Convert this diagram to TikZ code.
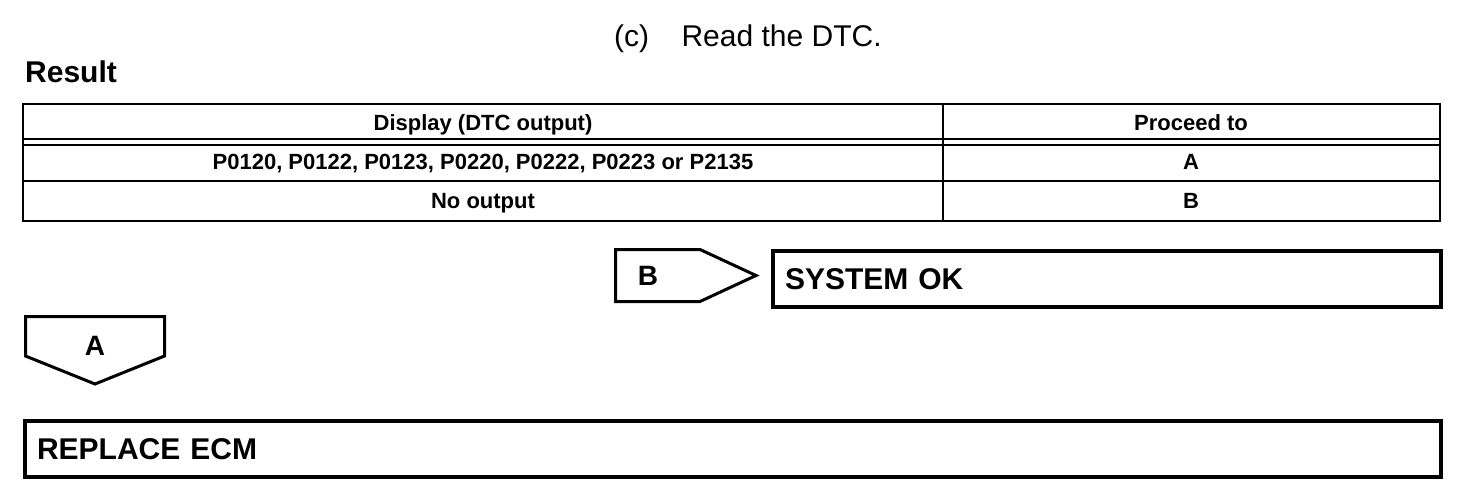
\documentclass[tikz,border=0pt]{standalone}
\usepackage{fontspec}
\setmainfont{Liberation Sans}
\usetikzlibrary{positioning}

\begin{document}
\begin{tikzpicture}[x=1pt, y=-1pt,
  bigtext/.style={font=\fontsize{30}{36}\selectfont, inner sep=0pt},
  cell/.style={font=\fontsize{22}{26}\selectfont\bfseries, inner sep=0pt, anchor=base},
  tabline/.style={draw, line width=2.5pt},
  arrowbox/.style={draw, line width=3pt, line join=miter},
  letter/.style={font=\fontsize{28}{32}\selectfont\bfseries, inner sep=0pt, anchor=base},
  resultbox/.style={draw, line width=4pt, font=\fontsize{30}{36}\selectfont\bfseries,
    anchor=north west, minimum height=56pt, text width=#1, align=left,
    inner xsep=12pt, inner ysep=0pt, outer sep=0pt}]

  \useasboundingbox (0,0) rectangle (1472,498);

  % heading
  \node[bigtext, anchor=base west] (cstep) at (614,46) {(c)};
  \node[bigtext, base right=32pt of cstep] (readdtc) {Read the DTC.};
  \node[bigtext, font=\fontsize{30}{36}\selectfont\bfseries, anchor=base west] (result) at (25,82) {Result};

  % table
  \coordinate (tl) at (23,104);
  \coordinate (br) at (1440,221);
  \draw[tabline] (tl) rectangle (br);
  \draw[tabline] (943,104) to (943,221);
  \draw[line width=2pt] (23,139) to (1440,139);
  \draw[line width=2pt] (23,144.5) to (1440,144.5);
  \draw[line width=2pt] (23,181) to (1440,181);

  \node[cell] (hdisp) at (483,130) {Display (DTC output)};
  \node[cell] (hproc) at (1191,130) {Proceed to};
  \node[cell] (codes) at (483,169) {P0120, P0122, P0123, P0220, P0222, P0223 or P2135};
  \node[cell] (goa) at (1191,169) {A};
  \node[cell] (noout) at (483,208) {No output};
  \node[cell] (gob) at (1191,208) {B};

  % branch B
  \draw[arrowbox] (615.5,249.5) to (700,249.5) to (756,275.5) to (700,301.5) to (615.5,301.5) to cycle;
  \node[letter] (markb) at (648,285) {B};
  \node[resultbox=644pt] (sysok) at (773,251) {SYSTEM OK};

  % branch A
  \draw[arrowbox] (25.5,316.5) to (164.5,316.5) to (164.5,356) to (95,384) to (25.5,356) to cycle;
  \node[letter] (marka) at (95,355) {A};
  \node[resultbox=1392pt] (ecm) at (25,421) {REPLACE ECM};
\end{tikzpicture}
\end{document}
